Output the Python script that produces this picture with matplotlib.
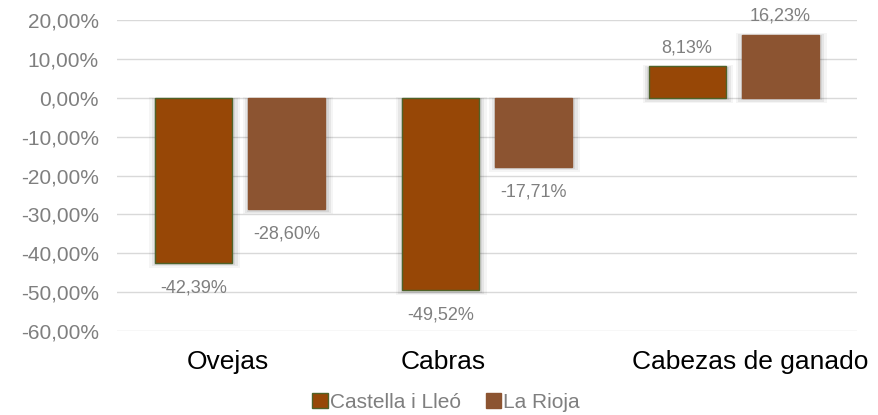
import matplotlib
matplotlib.use("Agg")
import matplotlib.pyplot as plt
import numpy as np
from matplotlib.patches import Rectangle, Patch

categories = ["Ovejas", "Cabras", "Cabezas de ganado"]
series_names = ["Castella i Lleó", "La Rioja"]
castilla = [-42.39, -49.52, 8.13]
rioja = [-28.60, -17.71, 16.23]
yticks = [20, 10, 0, -10, -20, -30, -40, -50, -60]

plt.rcParams['font.family'] = ['Liberation Sans', 'DejaVu Sans']

fig = plt.figure(figsize=(8.79, 4.15), dpi=100)
ax = fig.add_axes([117/879, 1-331/415, 740/879, 311/415])

x = np.arange(len(categories))
w = 0.312
gap = 0.066
off = (w + gap) / 2
c1 = "#974706"
c2 = "#8C5431"
gray = "#7F7F7F"

for vals, pos, col, ec in [(castilla, x - off, c1, "#4F6228"), (rioja, x + off, c2, c2)]:
    for xi, v in zip(pos, vals):
        for k, a in [(0.028, 0.04), (0.018, 0.06), (0.009, 0.07)]:
            y0 = min(0, v) - 0.9 * k / 0.028
            h = abs(v) + 1.6 * k / 0.028
            ax.add_patch(Rectangle((xi - w/2 - k + 0.004, y0 - 0.4), w + 2*k, h,
                                   facecolor="#000000", alpha=a, edgecolor="none", zorder=2))
    ax.bar(pos, vals, width=w, color=col, edgecolor=ec, linewidth=1.0, zorder=3)

def fmt(v):
    return f"{v:.2f}%".replace(".", ",")

for pos, vals in [(x - off, castilla), (x + off, rioja)]:
    for xi, v in zip(pos, vals):
        if v < 0:
            ax.annotate(fmt(v), (xi, v), xytext=(0, -12), textcoords="offset points",
                        ha="center", va="top", fontsize=13, color=gray, zorder=4)
        else:
            ax.annotate(fmt(v), (xi, v), xytext=(0, 7), textcoords="offset points",
                        ha="center", va="bottom", fontsize=13, color=gray, zorder=4)

ax.set_xlim(-0.5, 2.5)
ax.set_ylim(-60, 20)
ax.set_yticks(yticks)
ax.set_yticklabels([fmt(t) for t in yticks], fontsize=15, color=gray)
ax.yaxis.grid(True, color="#D9D9D9", linewidth=1.0, zorder=0)
ax.set_axisbelow(True)
# category label placement shifts (layout only)
label_shift = np.array([-0.05, -0.178, 0.066])
ax.set_xticks(x + label_shift)
ax.set_xticklabels(categories, fontsize=19, color="#000000")
ax.tick_params(axis="both", length=0)
ax.tick_params(axis="y", pad=13)
ax.tick_params(axis="x", pad=14)
for s in ax.spines.values():
    s.set_visible(False)

handles = [Patch(facecolor=c1, edgecolor="#4F6228", linewidth=1.0), Patch(facecolor=c2, edgecolor=c2)]
leg = fig.legend(handles, series_names, loc="center", bbox_to_anchor=(446/879, 1-402/415), ncol=2,
                 frameon=False, fontsize=15, handlelength=0.75, handleheight=0.75, handletextpad=0.1,
                 columnspacing=1.2, borderaxespad=0)
for t in leg.get_texts():
    t.set_color(gray)

fig.savefig("out.png", dpi=100)
